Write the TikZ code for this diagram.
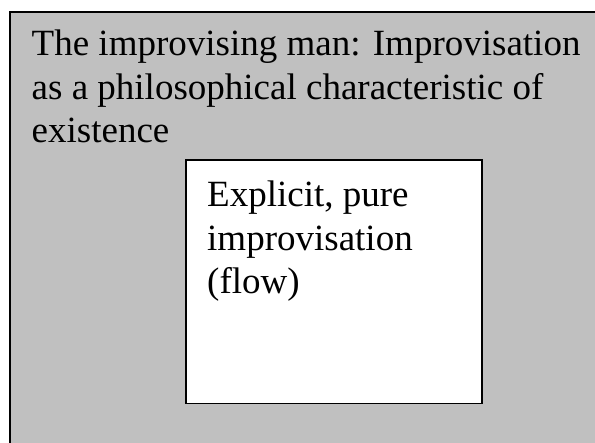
\documentclass[tikz,border=0pt]{standalone}
\usepackage{fontspec}
\setmainfont{Liberation Serif}
\definecolor{boxgray}{HTML}{C0C0C0}
\tikzset{
  outerbox/.style={draw=black, fill=boxgray, line width=1.6pt},
  innerbox/.style={draw=black, fill=white, line width=1.6pt},
  boxtext/.style={inner sep=0pt, align=left, anchor=base west, font=\fontsize{37}{43.5}\selectfont}
}
\begin{document}
\begin{tikzpicture}[x=1pt,y=1pt]
\useasboundingbox (0,0) rectangle (595,443);
\clip (0,0) rectangle (595,443);
\fill[white] (0,0) rectangle (595,443);
\path[outerbox] (10,-20) rectangle (620,431);
\node[boxtext] (title) at (31.5,300) {The improvising man: Improvisation\\as a philosophical characteristic of\\existence};
\path[innerbox] (186,39.5) rectangle (482,283);
\node[boxtext] (inner) at (207,149) {Explicit, pure\\improvisation\\(flow)};
\end{tikzpicture}
\end{document}
